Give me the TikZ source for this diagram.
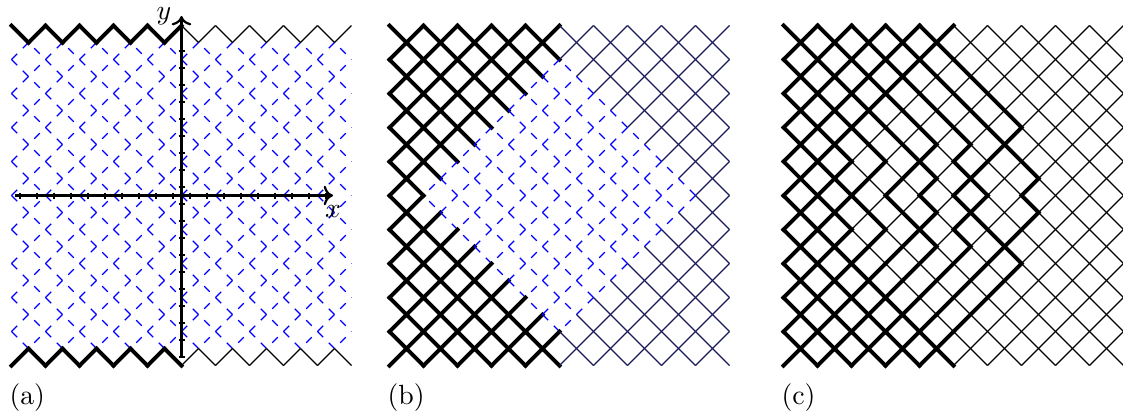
\documentclass[tikz,border=0pt]{standalone}
\usetikzlibrary{arrows.meta}
\definecolor{navyline}{rgb}{0.10,0.10,0.35}
\newcommand\latedge[4]{% #1 panel, #2 i, #3 j, #4 dj
  \pgfmathtruncatemacro\dd{abs(2*#2+1-20)+abs(2*#3+#4-20)}%
  \pgfmathtruncatemacro\mjj{2*#3+#4}%
  \pgfmathtruncatemacro\rowpar{mod(#3+\phaseoff,2)}%
  \ifnum#2<10 \def\zone{0}\else\def\zone{1}\fi
  \ifnum#1=1 \ifnum\mjj>2 \ifnum\mjj<38 \def\zone{2}\fi\fi\fi
  \ifnum#1=2 \ifnum\dd<17 \def\zone{2}\fi\fi
  \ifnum#1=3 \ifnum\dd<17 \def\zone{1}\fi\fi
  \ifnum\zone=0 \draw[thickedge] ({\xo+17*#2},{25.5+17*#3}) -- ({\xo+17*#2+17},{25.5+17*#3+17*#4});\fi
  \ifnum\zone=1 \draw[thinedge,draw=\thincol] ({\xo+17*#2},{25.5+17*#3}) -- ({\xo+17*#2+17},{25.5+17*#3+17*#4});\fi
  \ifnum\zone=2
    \ifnum\rowpar=0
      \draw[dashA] ({\xo+17*#2},{25.5+17*#3}) -- ({\xo+17*#2+17},{25.5+17*#3+17*#4});
    \else
      \draw[dashB] ({\xo+17*#2},{25.5+17*#3}) -- ({\xo+17*#2+17},{25.5+17*#3+17*#4});
    \fi
  \fi
}
\newcommand\lattice[1]{%
  \foreach \ii in {0,...,19}{
    \foreach \jj in {0,...,20}{
      \pgfmathtruncatemacro\ss{\ii+\jj}
      \ifodd\ss\else
        \ifnum\jj>0 \latedge{#1}{\ii}{\jj}{-1}\fi
        \ifnum\jj<20 \latedge{#1}{\ii}{\jj}{1}\fi
      \fi
    }
  }
}
\begin{document}
\begin{tikzpicture}[x=0.36pt,y=-0.36pt,
  thickedge/.style={line width=1.4pt,line cap=rect},
  thinedge/.style={line width=0.4pt},
  dashA/.style={blue,line width=0.4pt,dash pattern=on 2.885pt off 2.885pt,dash phase=0pt},
  dashB/.style={blue,line width=0.4pt,dash pattern=on 2.885pt off 2.885pt,dash phase=2.885pt},
  axisline/.style={line width=0.8pt,->},
  tickmark/.style={line width=0.6pt},
  caption/.style={anchor=base west,inner sep=0pt,font=\normalsize},
  pathc/.style={line width=1.4pt,line cap=rect,line join=miter}]
\useasboundingbox (0,0) rectangle (1123,419);
% ---------- panel (a)
\def\xo{11.5}\def\phaseoff{0}\def\thincol{black}
\lattice{1}
\foreach \k in {0,...,9}{
  \draw[tickmark] ({181.5-8.5-17*\k},192.5) -- ({181.5-8.5-17*\k},198.5);
  \draw[tickmark] (178.5,{195.5+8.5+17*\k}) -- (184.5,{195.5+8.5+17*\k});
}
\foreach \k in {0,...,8}{
  \draw[tickmark] ({181.5+8.5+17*\k},192.5) -- ({181.5+8.5+17*\k},198.5);
  \draw[tickmark] (178.5,{195.5-8.5-17*\k}) -- (184.5,{195.5-8.5-17*\k});
}
\coordinate (xs) at (15,195.5);
\coordinate (xe) at (333,195.5);
\coordinate (ys) at (181.5,357);
\coordinate (ye) at (181.5,16);
\draw[axisline] (xs) -- (xe) node[below] (xl) {$x$};
\draw[axisline] (ys) -- (ye) node[left] (yl) {$y$};
\node[caption] (capa) at (9,404) {(a)};
% ---------- panel (b)
\def\xo{389.5}\def\phaseoff{1}\def\thincol{navyline}
\lattice{2}
\node[caption] (capb) at (387,404) {(b)};
% ---------- panel (c)
\def\xo{783.5}\def\phaseoff{0}\def\thincol{black}
\lattice{3}
\begin{scope}[shift={(783.5,25.5)},x=6.12pt,y=-6.12pt]
  % upper half
  \draw[pathc] (10,2) -- (14,6) -- (10,10);
  \draw[pathc] (9,3) -- (15,9) -- (14,10);
  \draw[pathc] (8,4) -- (11,7) -- (10,8) -- (12,10);
  \draw[pathc] (7,5) -- (9,7) -- (6,10);
  \draw[pathc] (6,6) -- (8,8) -- (9,9) -- (8,10);
  \draw[pathc] (5,7) -- (6,8) -- (4,10);
  \draw[pathc] (4,8) -- (3,9) -- (4,10);
  \draw[pathc] (2,10) -- (3,9);
  % lower half
  \draw[pathc] (10,18) -- (14,14) -- (10,10);
  \draw[pathc] (9,17) -- (15,11) -- (14,10);
  \draw[pathc] (8,16) -- (11,13) -- (10,12) -- (12,10);
  \draw[pathc] (7,15) -- (9,13) -- (6,10);
  \draw[pathc] (6,14) -- (8,12) -- (9,11) -- (8,10);
  \draw[pathc] (5,13) -- (6,12) -- (4,10);
  \draw[pathc] (4,12) -- (3,11) -- (4,10);
  \draw[pathc] (2,10) -- (3,11);
\end{scope}
\node[caption] (capc) at (781,404) {(c)};
\end{tikzpicture}
\end{document}
